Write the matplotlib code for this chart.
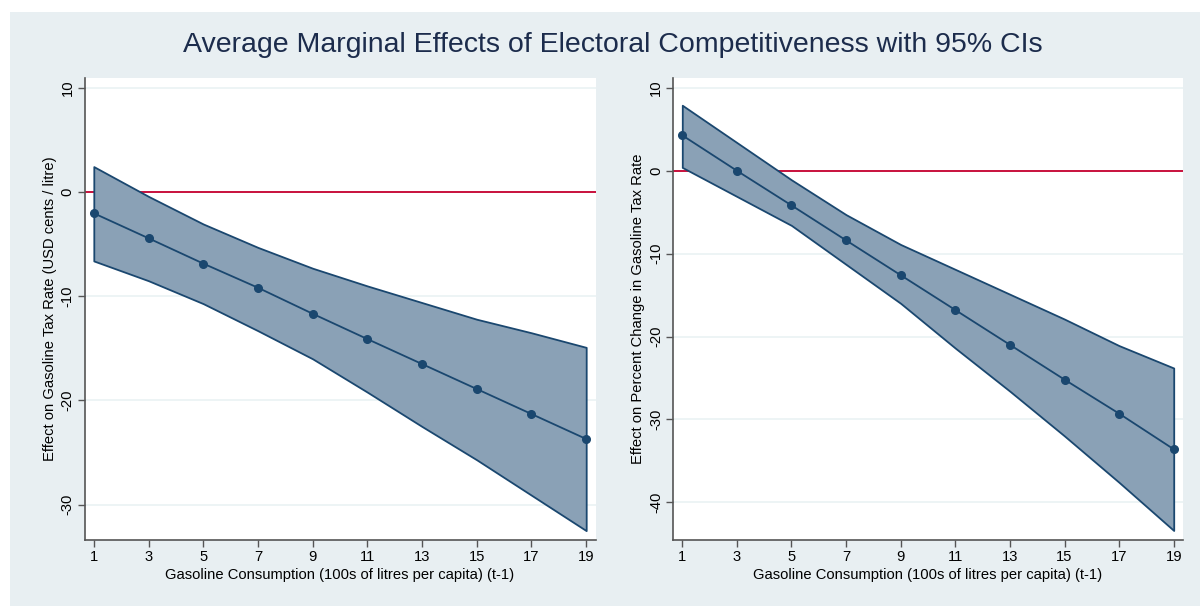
import matplotlib
matplotlib.use("Agg")
import matplotlib.pyplot as plt
from matplotlib.patches import Rectangle

plt.rcParams['font.family'] = ['Liberation Sans', 'DejaVu Sans']
plt.rcParams['axes.unicode_minus'] = False

# gasoline consumption (t-1)
x = [1, 3, 5, 7, 9, 11, 13, 15, 17, 19]

# left panel: effect on tax rate (USD cents / litre)
left_est = [-2.02, -4.42, -6.85, -9.17, -11.67, -14.1, -16.5, -18.9, -21.3, -23.7]
left_hi = [2.46, -0.4, -3.05, -5.3, -7.3, -9.0, -10.6, -12.2, -13.5, -14.9]
left_lo = [-6.6, -8.5, -10.7, -13.3, -16.0, -19.2, -22.5, -25.7, -29.1, -32.5]

# right panel: effect on percent change in tax rate
right_est = [4.27, 0.0, -4.18, -8.4, -12.6, -16.8, -21.0, -25.2, -29.3, -33.6]
right_hi = [7.9, 3.4, -1.1, -5.3, -8.9, -11.9, -14.9, -17.9, -21.1, -23.8]
right_lo = [0.4, -3.1, -6.6, -11.3, -16.0, -21.4, -26.6, -32.0, -37.6, -43.4]

left_yticks = [10, 0, -10, -20, -30]
right_yticks = [10, 0, -10, -20, -30, -40]

title = "Average Marginal Effects of Electoral Competitiveness with 95% CIs"
xlabel = "Gasoline Consumption (100s of litres per capita) (t-1)"
left_ylabel = "Effect on Gasoline Tax Rate (USD cents / litre)"
right_ylabel = "Effect on Percent Change in Gasoline Tax Rate"

bg = "#e8eff2"
navy = "#1a476f"
fillc = "#8aa1b6"
red = "#c8103c"

W, H = 1200, 606
fig = plt.figure(figsize=(W / 100, H / 100), dpi=100, facecolor="white")
fig.patches.append(Rectangle((10 / W, 0), 1 - 10 / W, 1 - 12 / H, transform=fig.transFigure,
                             facecolor=bg, edgecolor="none", zorder=-10))

def panel(rect, est, hi, lo, yticks, ylim, ylabel):
    ax = fig.add_axes(rect)
    ax.set_facecolor("white")
    ax.set_axisbelow(True)
    ax.fill_between(x, lo, hi, facecolor=fillc, edgecolor=navy, linewidth=1.3, zorder=2)
    ax.plot(x, est, color=navy, linewidth=1.3, marker="o", markersize=5.5, zorder=3)
    ax.axhline(0, color=red, linewidth=1.4, zorder=1)
    ax.set_xlim(0.66, 19.34)
    ax.set_ylim(*ylim)
    ax.set_xticks(x)
    ax.set_yticks(yticks)
    ax.grid(axis="y", color="#eaf2f3", linewidth=1.2)
    for s in ["top", "right"]:
        ax.spines[s].set_visible(False)
    for s in ["left", "bottom"]:
        ax.spines[s].set_color("#555555")
        ax.spines[s].set_linewidth(1.2)
    ax.tick_params(axis="both", direction="out", length=5, width=1, color="#555555",
                   labelsize=10.6, labelcolor="black")
    ax.tick_params(axis="x", pad=2)
    ax.tick_params(axis="y", pad=2)
    for lab in ax.get_yticklabels():
        lab.set_rotation(90)
        lab.set_va("center")
    ax.set_xlabel(xlabel, fontsize=10.6, labelpad=3)
    ax.set_ylabel(ylabel, fontsize=10.6, labelpad=3)
    return ax

bottom = 1 - 540 / H
height = (540 - 78.3) / H
panel([84.5 / W, bottom, 511 / W, height], left_est, left_hi, left_lo,
      left_yticks, (-33.4, 10.94), left_ylabel)
panel([673 / W, bottom, 510 / W, height], right_est, right_hi, right_lo,
      right_yticks, (-44.55, 11.15), right_ylabel)

fig.text(613 / W, 1 - 45 / H, title, ha="center", va="center", fontsize=20.5, color="#1c2c4c")

fig.savefig("out.png", dpi=100, facecolor="white")
